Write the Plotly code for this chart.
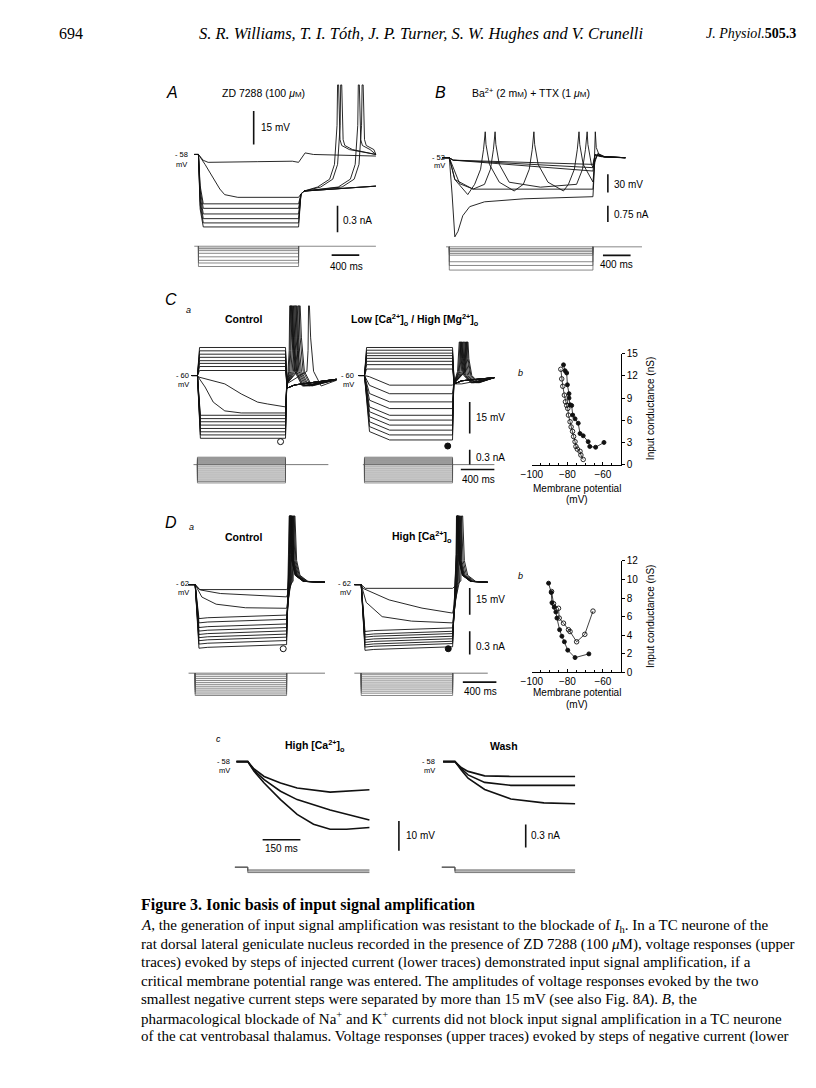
import plotly.graph_objects as go

W, H = 816, 1088
SANS = "Liberation Sans, Arial, Helvetica, sans-serif"
SERIF = "Liberation Serif, Times New Roman, serif"
INK = "#111111"
GREY = "#555555"

# ============================ DATA ============================
# Units: time ms, membrane potential mV, current nA, conductance nS

# ---- A : ZD 7288 (100 uM)
A_REST = -58.0
A_T_OFF, A_T_PRE, A_T_END = 1450, -60, 2570
A_TOP_T = [-60, 0, 70, 140, 860, 1360, 1450, 1545, 1665, 2570]
A_TOP_V = [-58, -58, -60.6, -61.5, -61.2, -61.0, -61.5, -57.3, -58.0, -58.7]
A_SLOW_T = [-60, 0, 95, 215, 310, 380, 570, 1450]
A_SLOW_V = [-58, -58, -62.4, -68.3, -73.4, -75.9, -77.1, -77.1]
A_FAST_LEVELS = [-80.0, -82.0, -84.5, -86.6, -88.5, -90.3]
A_FAST_SPIKE_T = [2015, 2315, None, 2060, 2370, None]
A_SPIKE_PEAK = -27.0
A_I_LEVELS = [-0.02, -0.03, -0.05, -0.08, -0.12, -0.16, -0.19, -0.23]

# ---- B : Ba2+ + TTX
B_REST = -52.0
B_T_OFF, B_T_PRE, B_T_END = 2080, -100, 2550
B_DEEP_T = [-100, 0, 40, 80, 125, 195, 295, 510, 1080, 1650, 2080, 2092, 2100, 2106, 2114, 2128, 2165, 2230, 2550]
B_DEEP_V = [-52, -52, -112, -183, -174, -148, -133, -125, -120, -118, -116.5, -90, -40, -9, -9, -35, -46, -50, -52]
B_SMALL_LEVELS = [-63.0, -68.4, -74.0]
B_FLAT_T = [-100, 0, 150, 350, 2080, 2105, 2150, 2250, 2550]
B_FLAT_V = [-52, -52, -95, -104, -104, -60, -45, -50, -52]
B_LTS1_SPIKES = [510, 1215, 1868]
B_LTS1_TROUGH_T = [267, 939, 1653]
B_LTS1_TROUGH_V = [-113, -107, -107]
B_LTS2_SPIKES = [653, 1986]
B_LTS2_TROUGH_T = [343, 1320]
B_LTS2_TROUGH_V = [-104, -100.7]
B_SPIKE_PEAK = -9.0
B_I_LEVELS = [-0.08, -0.15, -0.22, -0.30, -0.38, -0.68, -0.85, -1.06]

# ---- C a : Control / Low Ca - High Mg
C_REST = -60.0
C_T_OFF, C_T_PRE = 1050, -70
C_L_T_END, C_R_T_END = 1710, 1550
C_L_DEP = [-46.6, -48.2, -49.8, -51.3, -52.9, -54.2, -55.7, -57.6]
C_R_DEP = [-46.6, -47.9, -49.3, -50.5, -51.8, -53.2, -54.8, -56.9]
C_L_SLOW_T = [12, 326, 522, 717, 835, 1050]
C_L_SLOW_V = [-60.7, -64.0, -68.8, -72.7, -73.6, -75.0]
C_L_MID_T = [12, 91, 188, 326, 522, 1050]
C_L_MID_V = [-60.9, -65.5, -72.7, -76.9, -77.9, -77.9]
C_L_HYP = [-79.0, -80.6, -82.1, -83.7, -85.3, -86.9, -88.4, -90.0]
C_L_SPIKE_T = [1325, 1200, 1100, 1110, 1120, 1135, 1150, 1165, 1180, 1215]
C_R_HYP = [-64.6, -68.7, -72.6, -75.8, -79.0, -81.3, -83.7, -86.1, -88.4, -90.8]
C_R_SPIKE_T = [None, 1225, 1215, 1205, 1190, 1175, 1160, 1150, 1140, 1130]
C_L_PEAK, C_R_PEAK = -26.7, -44.0
C_L_POST = [(25, -42.0), (60, -58.0), (150, -65.0)]
C_R_POST = [(20, -52.0), (55, -60.0), (140, -63.5)]
C_I_DEP = [0.15, 0.13, 0.11, 0.09, 0.07, 0.05, 0.03, 0.01]
C_I_HYP = [-0.03, -0.07, -0.11, -0.15, -0.19, -0.23, -0.27, -0.31, -0.34, -0.37]
C_OPEN_MARK = (991, -91.6)
C_FILLED_MARK = (993, -93.7)

# ---- D a : Control / High Ca
D_REST = -62.0
D_T_OFF, D_T_PRE = 1090, -80
D_L_T_END, D_R_T_END = 1548, 1509
D_L_LEVELS = [-64.8, -68.9, -75.3, -79.1, -81.5, -84.1, -86.1, -88.0, -89.8, -91.5, -93.4, -95.7]
D_R_LEVELS = [-64.1, -78.0, -83.5, -86.3, -88.2, -89.5, -91.0, -92.4, -93.8, -95.1, -96.9]
D_L2_T, D_L2_V = [60, 300, 1090], [-65.0, -67.0, -68.9]
D_L3_T, D_L3_V = [80, 250, 600, 1090], [-69.0, -73.0, -75.0, -75.3]
D_R2_T, D_R2_V = [20, 333, 725, 1090], [-64.1, -70.6, -75.2, -78.0]
D_R3_T, D_R3_V = [60, 250, 600, 1090], [-72.0, -80.0, -82.5, -83.5]
D_L_SPIKE_T = [1180, 1170, 1160, 1150, 1145, 1140, 1135, 1130, 1128, 1126, 1124, 1122]
D_R_SPIKE_T = [1200, 1185, 1170, 1160, 1155, 1150, 1145, 1142, 1140, 1138, 1136]
D_SPIKE_PEAK = -23.5
D_POST = [(30, -48.5), (70, -56.8), (165, -60.2)]
D_V_END = -60.7
D_L_I = [-0.02, -0.045, -0.07, -0.095, -0.12, -0.145, -0.17, -0.195, -0.22, -0.245, -0.27, -0.29]
D_R_I = [-0.02, -0.047, -0.074, -0.10, -0.127, -0.154, -0.18, -0.207, -0.234, -0.26, -0.29]
D_OPEN_MARK = (1050, -98.0)
D_FILLED_MARK = (1038, -98.0)

# ---- D c : High Ca / Wash (expanded time base)
DC_L_T = [[-45, 0, 25, 65, 130, 196, 327, 392, 483],
          [-45, 0, 25, 65, 130, 196, 327, 392, 483],
          [-45, 0, 25, 65, 130, 196, 261, 327, 392, 483]]
DC_L_V = [[-58, -58, -60.5, -63.0, -65.2, -66.9, -68.3, -68.0, -67.5],
          [-58, -58, -61.0, -64.1, -68.0, -70.8, -74.3, -75.8, -77.7],
          [-58, -58, -61.3, -65.2, -70.8, -75.8, -79.1, -80.8, -80.8, -80.2]]
DC_R_T = [[-47, 0, 25, 52, 118, 222, 477],
          [-47, 0, 25, 52, 118, 222, 477],
          [-47, 0, 25, 52, 118, 222, 353, 477]]
DC_R_V = [[-58, -58, -60.0, -61.3, -62.8, -63.0, -63.0],
          [-58, -58, -60.4, -62.5, -65.0, -66.0, -66.0],
          [-58, -58, -60.8, -63.6, -67.4, -70.6, -71.9, -72.2]]
DC_I = [-0.035, -0.05, -0.07]

# ---- C b / D b : input conductance vs membrane potential
CB_OPEN_V = [-83.7, -83.2, -82.6, -81.7, -81.1, -80.4, -79.8, -79.4, -78.5, -77.9, -77.1, -76.5, -75.7, -75.2, -74.4, -72.9, -72.4, -71.1]
CB_OPEN_G = [12.9, 11.6, 10.6, 9.4, 8.5, 8.0, 7.6, 6.7, 5.8, 5.1, 4.5, 3.8, 3.1, 2.45, 2.1, 1.8, 1.3, 0.7]
CB_FILLED_V = [-82.2, -81.3, -80.4, -80.0, -79.1, -79.1, -78.5, -77.6, -77.0, -75.7, -73.9, -72.9, -71.1, -68.3, -67.4, -64.1, -59.4]
CB_FILLED_G = [13.5, 12.7, 12.4, 10.8, 9.6, 9.0, 8.1, 8.0, 6.7, 6.2, 5.6, 4.2, 3.9, 3.1, 2.45, 2.35, 3.0]
DB_FILLED_V = [-90.6, -89.1, -88.7, -87.4, -86.5, -85.9, -84.4, -83.1, -81.7, -79.8, -75.7, -67.9]
DB_FILLED_G = [9.6, 8.6, 7.5, 7.0, 6.5, 5.85, 4.6, 3.9, 3.3, 2.4, 1.6, 2.0]
DB_OPEN_V = [-88.9, -87.8, -85.0, -84.6, -82.2, -79.4, -78.5, -74.8, -70.2, -65.6]
DB_OPEN_G = [8.7, 7.4, 6.9, 5.85, 5.3, 4.6, 4.4, 3.3, 4.1, 6.6]
X_TICKS = [-100, -80, -60]
CB_Y_TICKS = [0, 3, 6, 9, 12, 15]
DB_Y_TICKS = [0, 2, 4, 6, 8, 10, 12]

# ---- text
HEADER_PAGE = "694"
HEADER_AUTHORS = "S. R. Williams, T. I. Tóth, J. P. Turner, S. W. Hughes and V. Crunelli"
CAPTION_TITLE = "Figure 3. Ionic basis of input signal amplification"
CAPTION_LINES = [
    "<i>A</i>, the generation of input signal amplification was resistant to the blockade of <i>I</i><sub>h</sub>. In a TC neurone of the",
    "rat dorsal lateral geniculate nucleus recorded in the presence of ZD 7288 (100 <i>μ</i>M), voltage responses (upper",
    "traces) evoked by steps of injected current (lower traces) demonstrated input signal amplification, if a",
    "critical membrane potential range was entered. The amplitudes of voltage responses evoked by the two",
    "smallest negative current steps were separated by more than 15 mV (see also Fig. 8<i>A</i>). <i>B</i>, the",
    "pharmacological blockade of Na<sup>+</sup> and K<sup>+</sup> currents did not block input signal amplification in a TC neurone",
    "of the cat ventrobasal thalamus. Voltage responses (upper traces) evoked by steps of negative current (lower",
]

# ============================ FIGURE MACHINERY ============================
fig = go.Figure()
AX = {}
ANN = []


def add_axes(box, xpx, xval, xupp, ypx, yval, yupp):
    """Create an invisible axis pair whose domain is a page box (pixels)."""
    l, t, r, b = box
    n = len(AX) // 2 + 1
    xk, yk = ("xaxis", "yaxis") if n == 1 else (f"xaxis{n}", f"yaxis{n}")
    xn, yn = ("x", "y") if n == 1 else (f"x{n}", f"y{n}")
    AX[xk] = dict(domain=[l / W, r / W], range=[xval + (l - xpx) * xupp, xval + (r - xpx) * xupp],
                  anchor=yn, visible=False, fixedrange=True)
    AX[yk] = dict(domain=[1 - b / H, 1 - t / H], range=[yval - (b - ypx) * yupp, yval - (t - ypx) * yupp],
                  anchor=xn, visible=False, fixedrange=True)
    return (xn, yn, xk, yk)


def line(ax, t, v, color=INK, width=0.9):
    fig.add_trace(go.Scatter(x=list(t), y=list(v), mode="lines", line=dict(color=color, width=width),
                             xaxis=ax[0], yaxis=ax[1], hoverinfo="skip", showlegend=False))


def pts_line(ax, pts, color=INK, width=0.9):
    out = []
    for t, v in pts:
        if not out or t > out[-1][0]:
            out.append((t, v))
    line(ax, [p[0] for p in out], [p[1] for p in out], color, width)


def mark(ax, t, v, filled):
    fig.add_trace(go.Scatter(x=[t], y=[v], mode="markers", xaxis=ax[0], yaxis=ax[1],
                             marker=dict(symbol="circle" if filled else "circle-open", size=6, color=INK,
                                         line=dict(color=INK, width=1)),
                             hoverinfo="skip", showlegend=False, cliponaxis=False))


def step_current(ax, level, t_off, color=GREY, width=0.7):
    line(ax, [0, 0, t_off, t_off], [0, level, level, 0], color, width)


def txt(x, y, s, size=10, family=SANS, xanchor="center", yanchor="middle", angle=0, color="black"):
    ANN.append(dict(x=x / W, y=1 - y / H, xref="paper", yref="paper", text=s, showarrow=False,
                    font=dict(family=family, size=size, color=color), xanchor=xanchor, yanchor=yanchor,
                    textangle=angle))


def interp(t, v, tq):
    for i in range(1, len(t)):
        if t[i] >= tq:
            f = (tq - t[i - 1]) / (t[i] - t[i - 1])
            return v[i - 1] + f * (v[i] - v[i - 1])
    return v[-1]


MUM = "<i>μ</i><span style='font-size:8px'>M</span>"
MM = "m<span style='font-size:8px'>M</span>"

# ============================ PANEL A ============================
A_V = add_axes((183, 76, 372, 232), 190, 0, 400 / 28, 150, A_REST, 15 / 34)
A_I = add_axes((183, 195, 372, 270), 190, 0, 400 / 28, 242.7, 0, 0.3 / 26.7)


def a_rebound(level, ts):
    p = [(A_T_OFF, level), (A_T_OFF + 35, -75.6), (A_T_OFF + 80, -74.3)]
    if ts is None:
        p += [(A_T_OFF + 265, -73.9), (A_T_END, -72.1)]
    else:
        p += [(ts - 290, -72.5), (ts - 115, -69.0), (ts - 45, -62.4), (ts - 8, -45.0), (ts, A_SPIKE_PEAK),
              (ts + 15, A_SPIKE_PEAK), (ts + 35, -51.4), (ts + 60, -54.0), (ts + 170, -55.8), (A_T_END, -58.0)]
    return p


line(A_V, A_TOP_T, A_TOP_V)
pts_line(A_V, list(zip(A_SLOW_T, A_SLOW_V)) + a_rebound(A_SLOW_V[-1], None))
for lvl, ts in zip(A_FAST_LEVELS, A_FAST_SPIKE_T):
    pts_line(A_V, [(A_T_PRE, A_REST), (0, A_REST), (25, lvl + 8), (70, lvl), (A_T_OFF, lvl)] + a_rebound(lvl, ts))
for lvl in A_I_LEVELS:
    step_current(A_I, lvl, A_T_OFF)
line(A_I, [A_T_PRE, A_T_END], [0, 0], GREY, 0.7)
line(A_V, [800, 800], [-53.6, -38.6], INK, 1.6)        # 15 mV
line(A_I, [2014, 2014], [0.16, 0.46], INK, 1.6)        # 0.3 nA
line(A_I, [1929, 2329], [-0.101, -0.101], INK, 1.6)    # 400 ms
txt(163, 87, "<i>A</i>", 16)
txt(256, 88, "ZD 7288 (100 " + MUM + ")", 10.5)
txt(251, 123, "15 mV", 10, xanchor="left")
txt(181, 150, "- 58", 7.5, xanchor="right")
txt(180, 160, "mV", 7.5, xanchor="right")
txt(335, 217, "0.3 nA", 10, xanchor="left")
txt(340, 263, "400 ms", 10)

# ============================ PANEL B ============================
B_V = add_axes((428, 110, 645, 240), 444.3, 0, 400 / 28, 153.3, B_REST, 30 / 18.3)
B_I = add_axes((428, 195, 645, 272), 444.3, 0, 400 / 28, 243.3, 0, 0.75 / 16.6)

line(B_V, B_DEEP_T, B_DEEP_V)
line(B_V, B_FLAT_T, B_FLAT_V)
for lvl in B_SMALL_LEVELS:
    pts_line(B_V, [(B_T_PRE, B_REST), (0, B_REST), (55, B_REST - 4), (B_T_OFF, lvl), (B_T_OFF + 30, -47),
                   (B_T_OFF + 120, -50), (B_T_END, B_REST)])


def lts(trough_t, trough_v, spikes):
    p = [(B_T_PRE, B_REST), (0, B_REST), (80, -88.0)]
    for tt, vt, ts in zip(trough_t, trough_v, spikes):
        p += [(tt, vt), (ts - 143, -96), (ts - 57, -71), (ts - 14, -38), (ts, B_SPIKE_PEAK),
              (ts + 10, B_SPIKE_PEAK), (ts + 21, -30), (ts + 71, -63), (ts + 214, -92.5)]
    t = [q[0] for q in p]
    v = [q[1] for q in p]
    v_off = interp(t, v, B_T_OFF)
    p = [q for q in p if q[0] < B_T_OFF] + [(B_T_OFF, v_off), (B_T_OFF + 30, -55), (B_T_OFF + 70, -47),
                                             (B_T_OFF + 170, -51), (B_T_END, B_REST)]
    pts_line(B_V, p)


lts(B_LTS1_TROUGH_T, B_LTS1_TROUGH_V, B_LTS1_SPIKES)
lts(B_LTS2_TROUGH_T, B_LTS2_TROUGH_V, B_LTS2_SPIKES)
for lvl in B_I_LEVELS:
    step_current(B_I, lvl, B_T_OFF)
line(B_I, [-47, 2790], [0, 0], GREY, 0.7)
line(B_V, [2296, 2296], [-109.4, -79.4], INK, 1.6)     # 30 mV
line(B_I, [2296, 2296], [1.13, 1.88], INK, 1.6)        # 0.75 nA
line(B_I, [2225, 2625], [-0.39, -0.39], INK, 1.6)      # 400 ms
txt(435, 87, "<i>B</i>", 16)
txt(527, 87, "Ba<sup>2+</sup> (2 " + MM + ") + TTX (1 " + MUM + ")", 10.5)
txt(442, 153, "- 52", 7.5, xanchor="right")
txt(442, 161, "mV", 7.5, xanchor="right")
txt(609, 180, "30 mV", 10, xanchor="left")
txt(609, 211, "0.75 nA", 10, xanchor="left")
txt(614, 261, "400 ms", 10)

# ============================ PANEL C a ============================
C_LV = add_axes((178, 296, 330, 452), 189, 0, 400 / 34, 373.3, C_REST, 15 / 31.7)
C_RV = add_axes((333, 296, 497, 452), 358.3, 0, 400 / 34, 373.3, C_REST, 15 / 31.7)
C_LI = add_axes((178, 440, 330, 486), 189, 0, 400 / 34, 463.3, 0, 0.3 / 15)
C_RI = add_axes((333, 440, 497, 486), 358.3, 0, 400 / 34, 463.3, 0, 0.3 / 15)


def c_after(level, ts, peak, post, t_end, v_end):
    p = [(C_T_OFF, level), (C_T_OFF + 15, -64.0)]
    if ts is None:
        return p + [(C_T_OFF + 110, -64.0), (t_end, v_end)]
    p += [(ts - 20, -58.0), (ts - 6, -48.0), (ts, peak), (ts + 10, peak)]
    p += [(ts + dt, vv) for dt, vv in post]
    return p + [(t_end, v_end)]


for lvl in C_L_DEP:
    pts_line(C_LV, [(C_T_PRE, C_REST), (0, C_REST), (25, lvl), (C_T_OFF, lvl), (C_T_OFF + 20, -66.0),
                    (C_T_OFF + 110, -64.5), (C_L_T_END, -61.5)])
for lvl in C_R_DEP:
    pts_line(C_RV, [(C_T_PRE, C_REST), (0, C_REST), (25, lvl), (C_T_OFF, lvl), (C_T_OFF + 20, -64.0),
                    (C_T_OFF + 110, -62.5), (C_R_T_END, -61.0)])
left_hyp = [list(zip(C_L_SLOW_T, C_L_SLOW_V)), list(zip(C_L_MID_T, C_L_MID_V))]
left_hyp += [[(35, lvl), (C_T_OFF, lvl)] for lvl in C_L_HYP]
for shape, ts in zip(left_hyp, C_L_SPIKE_T):
    pts_line(C_LV, [(C_T_PRE, C_REST), (0, C_REST)] + shape +
             c_after(shape[-1][1], ts, C_L_PEAK, C_L_POST, C_L_T_END, -61.5))
for lvl, ts in zip(C_R_HYP, C_R_SPIKE_T):
    pts_line(C_RV, [(C_T_PRE, C_REST), (0, C_REST), (60, lvl + 4), (300, lvl), (C_T_OFF, lvl)] +
             c_after(lvl, ts, C_R_PEAK, C_R_POST, C_R_T_END, -61.0))
for lvl in C_I_DEP + C_I_HYP:
    step_current(C_LI, lvl, C_T_OFF)
    step_current(C_RI, lvl, C_T_OFF)
line(C_LI, [-47, 1561], [0, 0], GREY, 0.8)
line(C_RI, [-19, 1549], [0, 0], GREY, 0.8)
mark(C_LV, *C_OPEN_MARK, filled=False)
mark(C_RV, *C_FILLED_MARK, filled=True)
line(C_RV, [1255, 1255], [-87.7, -72.7], INK, 1.6)     # 15 mV
line(C_RI, [1255, 1255], [0.0, 0.3], INK, 1.6)         # 0.3 nA
line(C_RI, [1149, 1549], [-0.1, -0.1], INK, 1.6)       # 400 ms
txt(162, 297, "<i>C</i>", 16)
txt(180, 307, "<i>a</i>", 9)
txt(236, 316, "<b>Control</b>", 10.5)
txt(410, 317, "<b>Low [Ca<sup>2+</sup>]<sub>o</sub> / High [Mg<sup>2+</sup>]<sub>o</sub></b>", 10.5)
txt(182, 373, "- 60", 7.5, xanchor="right")
txt(182, 382, "mV", 7.5, xanchor="right")
txt(350, 373, "- 60", 7.5, xanchor="right")
txt(350, 382, "mV", 7.5, xanchor="right")
txt(469, 416, "15 mV", 10, xanchor="left")
txt(469, 456, "0.3 nA", 10, xanchor="left")
txt(474, 478, "400 ms", 10)

# ============================ PANEL D a ============================
D_LV = add_axes((176, 505, 330, 662), 186.7, 0, 400 / 34, 584.5, D_REST, 15 / 27)
D_RV = add_axes((338, 505, 497, 662), 355, 0, 400 / 34, 584.5, D_REST, 15 / 27)
D_LI = add_axes((176, 625, 330, 700), 186.7, 0, 400 / 34, 674, 0, 0.3 / 23.3)
D_RI = add_axes((338, 625, 497, 700), 355, 0, 400 / 34, 674, 0, 0.3 / 23.3)


def d_after(level, ts, t_end):
    p = [(D_T_OFF, level), (ts - 12, -60.0), (ts - 4, -45.0), (ts, D_SPIKE_PEAK), (ts + 10, D_SPIKE_PEAK)]
    return p + [(ts + dt, vv) for dt, vv in D_POST] + [(t_end, D_V_END)]


def d_panel(ax, levels, special, spikes, t_end):
    for i, (lvl, ts) in enumerate(zip(levels, spikes)):
        if i in special:
            st, sv = special[i]
            shape = list(zip(st, sv))
        elif i == 0:
            shape = [(50, lvl), (D_T_OFF, lvl)]
        else:
            shape = [(45, lvl - 2), (150, lvl - 1.5), (D_T_OFF, lvl)]
        pts_line(ax, [(D_T_PRE, D_REST), (0, D_REST)] + shape + d_after(lvl, ts, t_end))


d_panel(D_LV, D_L_LEVELS, {1: (D_L2_T, D_L2_V), 2: (D_L3_T, D_L3_V)}, D_L_SPIKE_T, D_L_T_END)
d_panel(D_RV, D_R_LEVELS, {1: (D_R2_T, D_R2_V), 2: (D_R3_T, D_R3_V)}, D_R_SPIKE_T, D_R_T_END)
for lvl in D_L_I:
    step_current(D_LI, lvl, D_T_OFF)
for lvl in D_R_I:
    step_current(D_RI, lvl, D_T_OFF)
line(D_LI, [-79, D_L_T_END], [0, 0], GREY, 0.8)
line(D_RI, [-82, D_R_T_END], [0, 0], GREY, 0.8)
mark(D_LV, *D_OPEN_MARK, filled=False)
mark(D_RV, *D_FILLED_MARK, filled=True)
line(D_RV, [1294, 1294], [-78.9, -63.9], INK, 1.6)     # 15 mV
line(D_RI, [1294, 1294], [0.244, 0.544], INK, 1.6)     # 0.3 nA
line(D_RI, [1212, 1612], [-0.116, -0.116], INK, 1.6)   # 400 ms
txt(162, 522, "<i>D</i>", 16)
txt(183, 526, "<i>a</i>", 9)
txt(236, 536, "<b>Control</b>", 10.5)
txt(417, 536, "<b>High [Ca<sup>2+</sup>]<sub>o</sub></b>", 10.5)
txt(182, 583, "- 62", 7.5, xanchor="right")
txt(182, 592, "mV", 7.5, xanchor="right")
txt(347, 583, "- 62", 7.5, xanchor="right")
txt(347, 592, "mV", 7.5, xanchor="right")
txt(469, 600, "15 mV", 10, xanchor="left")
txt(469, 647, "0.3 nA", 10, xanchor="left")
txt(476, 693, "400 ms", 10)

# ============================ PANEL D c ============================
DC_LV = add_axes((220, 752, 432, 862), 240, 0, 150 / 38.3, 763.3, -58, 10 / 30)
DC_RV = add_axes((432, 752, 585, 862), 450, 0, 150 / 38.3, 763.3, -58, 10 / 30)
DC_LI = add_axes((220, 820, 432, 882), 240, 0, 150 / 38.3, 870, 0, 0.3 / 23.3)
DC_RI = add_axes((432, 820, 585, 882), 450, 0, 150 / 38.3, 870, 0, 0.3 / 23.3)
for t, v in zip(DC_L_T, DC_L_V):
    line(DC_LV, t, v, INK, 1.6)
for t, v in zip(DC_R_T, DC_R_V):
    line(DC_RV, t, v, INK, 1.6)
for lvl in DC_I:
    line(DC_LI, [-51, 0, 0, 483], [0, 0, lvl, lvl], GREY, 0.8)
    line(DC_RI, [-52, 0, 0, 477], [0, 0, lvl, lvl], GREY, 0.8)
line(DC_LV, [59, 209], [-84.3, -84.3], INK, 1.6)       # 150 ms
line(DC_LV, [600, 600], [-88, -78], INK, 1.6)          # 10 mV
line(DC_RI, [281, 281], [0.257, 0.557], INK, 1.6)      # 0.3 nA
txt(210, 740, "<i>c</i>", 9)
txt(308, 748, "<b>High [Ca<sup>2+</sup>]<sub>o</sub></b>", 10.5)
txt(500, 748, "<b>Wash</b>", 10.5)
txt(224, 763, "- 58", 7.5, xanchor="right")
txt(224, 772, "mV", 7.5, xanchor="right")
txt(432, 763, "- 58", 7.5, xanchor="right")
txt(432, 772, "mV", 7.5, xanchor="right")
txt(274, 851, "150 ms", 10)
txt(398, 838, "10 mV", 10, xanchor="left")
txt(525, 838, "0.3 nA", 10, xanchor="left")

# ============================ PANELS C b / D b ============================
def gplot(box, ymax, yticks):
    ax = add_axes(box, box[0], -100, 50 / (box[2] - box[0]), box[3], 0, ymax / (box[3] - box[1]))
    AX[ax[2]].update(visible=True, range=[-100, -50], showline=True, linecolor="black", linewidth=1,
                     ticks="inside", ticklen=3, tickwidth=1, tickcolor="black", tickmode="array",
                     tickvals=X_TICKS, ticktext=["−100", "−80", "−60"],
                     tickfont=dict(family=SANS, size=10, color="black"), showgrid=False, zeroline=False,
                     minor=dict(tickmode="linear", tick0=-100, dtick=5, ticks="inside", ticklen=2,
                                tickcolor="black", showgrid=False))
    AX[ax[3]].update(visible=True, range=[0, ymax], side="right", showline=True, linecolor="black",
                     linewidth=1, ticks="outside", ticklen=3, tickwidth=1, tickcolor="black",
                     tickmode="array", tickvals=yticks, tickfont=dict(family=SANS, size=10, color="black"),
                     showgrid=False, zeroline=False)
    return ax


def series(ax, v, g, filled):
    fig.add_trace(go.Scatter(x=v, y=g, mode="lines+markers", xaxis=ax[0], yaxis=ax[1],
                             line=dict(color=INK, width=0.8),
                             marker=dict(symbol="circle" if filled else "circle-open", size=4 if filled else 4.5,
                                         color=INK, line=dict(color=INK, width=0.9)),
                             hoverinfo="skip", showlegend=False, cliponaxis=False))


CB = gplot((528, 351.3, 618, 463.3), 15, CB_Y_TICKS)
series(CB, CB_OPEN_V, CB_OPEN_G, False)
series(CB, CB_FILLED_V, CB_FILLED_G, True)
DB = gplot((528, 560.5, 618, 673.3), 12, DB_Y_TICKS)
series(DB, DB_OPEN_V, DB_OPEN_G, False)
series(DB, DB_FILLED_V, DB_FILLED_G, True)
for yb, yc in ((371, 407), (576, 617)):
    txt(516, yb, "<i>b</i>", 9)
    txt(649, yc, "Input conductance (nS)", 10, angle=-90)
for y0 in (487, 694):
    txt(574, y0, "Membrane potential", 10)
    txt(574, y0 + 12, "(mV)", 10)

# ============================ HEADER + CAPTION ============================
txt(47, 28, HEADER_PAGE, 16, SERIF, xanchor="left")
txt(189, 28, "<i>" + HEADER_AUTHORS + "</i>", 16.5, SERIF, xanchor="left")
txt(798, 28, "<i>J. Physiol.</i><b>505.3</b>", 14, SERIF, xanchor="right")
txt(130, 908, "<b>" + CAPTION_TITLE + "</b>", 16, SERIF, xanchor="left")
for i, s in enumerate(CAPTION_LINES):
    txt(130, 929 + 18.6 * i, s, 15, SERIF, xanchor="left")

fig.update_layout(width=W, height=H, margin=dict(l=0, r=0, t=0, b=0), paper_bgcolor="white",
                  plot_bgcolor="rgba(0,0,0,0)", showlegend=False, annotations=ANN, **AX)
fig.write_html("out.html", config={"displayModeBar": False},
               post_script="document.body.style.margin='0px';document.body.style.overflow='hidden';")
